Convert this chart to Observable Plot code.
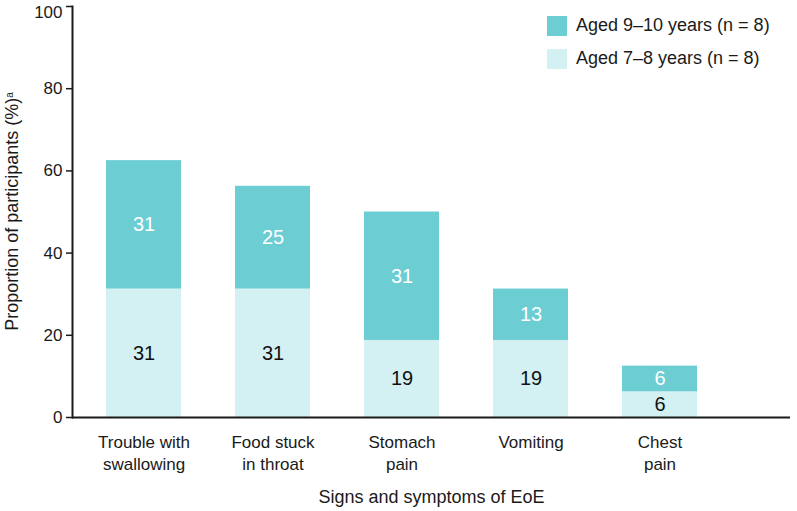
<!DOCTYPE html>
<html><head><meta charset="utf-8">
<script src="https://cdn.jsdelivr.net/npm/d3@7"></script>
<script src="https://cdn.jsdelivr.net/npm/@observablehq/plot@0.6"></script>
<style>
body{margin:0;background:#fff;font-family:"Liberation Sans",Arial,sans-serif;}
#wrap{position:relative;width:797px;height:511px;}
.legend{position:absolute;left:547px;top:9px;font-size:18px;color:#1a1a1a;}
.item{display:flex;align-items:center;height:33px;}
.sw{width:20px;height:20px;margin-right:9px;}
</style></head><body><div id="wrap"></div>
<script>
const categories = ["Trouble with\nswallowing", "Food stuck\nin throat", "Stomach\npain", "Vomiting", "Chest\npain"];
const groups = ["Aged 7–8 years (n = 8)", "Aged 9–10 years (n = 8)"];
const aged78 = [31.25, 31.25, 18.75, 18.75, 6.25];
const aged910 = [31.25, 25, 31.25, 12.5, 6.25];
const yTicks = [0, 20, 40, 60, 80, 100];
const xLabel = "Signs and symptoms of EoE";
const yLabel = "Proportion of participants (%)";
const yLabelSup = "a";

const colors = ["#d3f0f3", "#6ccdd3"];
const labelColors = ["#111111", "#ffffff"];

const data = [];
categories.forEach((c, i) => {
  data.push({cat: c, g: 0, v: aged78[i]});
  data.push({cat: c, g: 1, v: aged910[i]});
});

const topTick = yTicks[yTicks.length - 1];

const plot = Plot.plot({
  width: 797, height: 511,
  marginLeft: 72, marginRight: 7, marginTop: 6, marginBottom: 94,
  style: {fontFamily: "Liberation Sans, Arial, sans-serif", fontSize: "17px", color: "#1a1a1a", background: "#fff", overflow: "visible"},
  x: {domain: categories, range: [104, 700], paddingInner: 0.415, paddingOuter: 0},
  y: {domain: [0, 100]},
  color: {type: "identity"},
  marks: [
    Plot.barY(data, {x: "cat", y: "v", z: "g", fill: d => colors[d.g]}),
    Plot.text(data, Plot.stackY({x: "cat", y: "v", z: "g", text: d => String(Math.round(d.v)), fill: d => labelColors[d.g], fontSize: 20})),
    Plot.axisY({ticks: yTicks, tickSize: 6, tickPadding: 4, label: null, fontSize: 17, strokeWidth: 1.5, stroke: "#1a1a1a", fill: "#1a1a1a", tickFormat: d => d === topTick ? "" : String(d)}),
    Plot.axisY({ticks: [topTick], tickSize: 0, tickPadding: 10, label: null, fontSize: 17, dy: 6, fill: "#1a1a1a"}),
    Plot.axisX({tickSize: 0, tickPadding: 15, label: null, lineHeight: 1.3, fontSize: 17, fill: "#1a1a1a"}),
    Plot.ruleY([0], {stroke: "#1a1a1a", strokeWidth: 2}),
    Plot.frame({anchor: "left", stroke: "#1a1a1a", strokeWidth: 2}),
    Plot.text([xLabel], {frameAnchor: "bottom", dy: 85, fontSize: 18, fill: "#1a1a1a"})
  ]
});

const svg = d3.select(plot);
const yScale = plot.scale("y");
const t = svg.append("text")
  .attr("transform", `translate(18,${(yScale.range[0] + yScale.range[1]) / 2}) rotate(-90)`)
  .attr("text-anchor", "middle")
  .attr("font-size", 18)
  .attr("fill", "#1a1a1a");
t.append("tspan").text(yLabel);
t.append("tspan").attr("baseline-shift", "super").attr("font-size", 10).text(yLabelSup);

const wrap = document.getElementById("wrap");
wrap.appendChild(plot);
const legend = document.createElement("div");
legend.className = "legend";
[1, 0].forEach(g => {
  const it = document.createElement("div");
  it.className = "item";
  const sw = document.createElement("div");
  sw.className = "sw";
  sw.style.background = colors[g];
  const tx = document.createElement("span");
  tx.textContent = groups[g];
  it.appendChild(sw); it.appendChild(tx);
  legend.appendChild(it);
});
wrap.appendChild(legend);
</script></body></html>
